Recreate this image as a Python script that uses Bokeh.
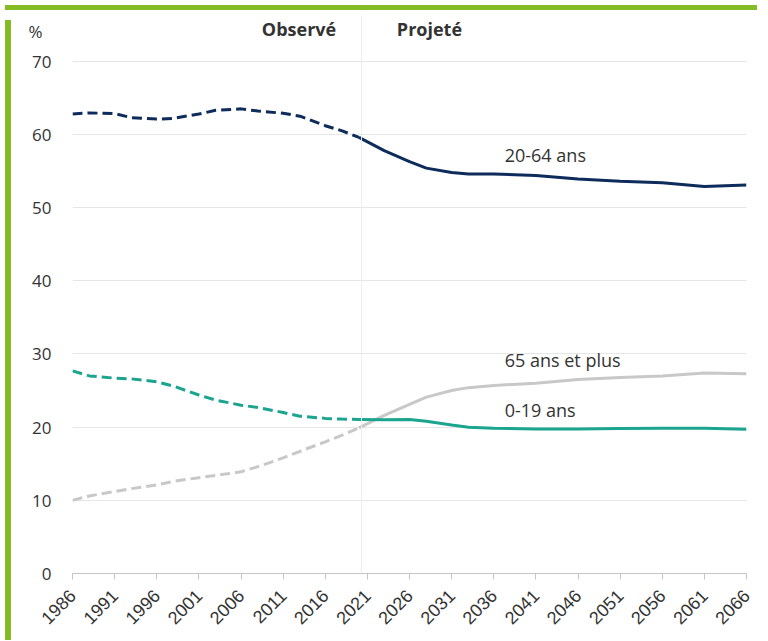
from bokeh.plotting import figure
from bokeh.models import Range1d, FixedTicker, Span, Label, Div
from bokeh.layouts import row, column
from bokeh.embed import file_html
from bokeh.resources import INLINE
import math

# ---- data ----
obs_years = [1986, 1988, 1991, 1993, 1996, 1998, 2001, 2003, 2006, 2008, 2011, 2013, 2016, 2018, 2020]
proj_years = [2020, 2023, 2026, 2028, 2031, 2033, 2036, 2041, 2046, 2051, 2056, 2061, 2066]

age_20_64_obs = [62.8, 62.95, 62.85, 62.3, 62.1, 62.2, 62.8, 63.3, 63.5, 63.2, 62.9, 62.5, 61.2, 60.5, 59.6]
age_20_64_proj = [59.6, 57.8, 56.3, 55.4, 54.8, 54.6, 54.6, 54.4, 53.9, 53.6, 53.4, 52.9, 53.1]

age_0_19_obs = [27.7, 27.0, 26.7, 26.6, 26.2, 25.6, 24.4, 23.7, 23.0, 22.7, 22.0, 21.5, 21.2, 21.1, 21.05]
age_0_19_proj = [21.05, 21.0, 21.05, 20.8, 20.3, 20.0, 19.85, 19.75, 19.75, 19.8, 19.85, 19.85, 19.7]

age_65_obs = [10.0, 10.6, 11.2, 11.6, 12.1, 12.6, 13.1, 13.4, 13.9, 14.6, 15.8, 16.7, 18.0, 18.9, 19.9]
age_65_proj = [19.9, 21.6, 23.1, 24.1, 25.0, 25.4, 25.7, 26.0, 26.5, 26.8, 27.0, 27.4, 27.3]

x_ticks = list(range(1986, 2067, 5))
y_ticks = [0, 10, 20, 30, 40, 50, 60, 70]
unit_label = "%"

series_labels = ["20-64 ans", "65 ans et plus", "0-19 ans"]
period_labels = ["Observé", "Projeté"]

NAVY = "#0d2b5b"
TEAL = "#1ba48e"
GREY = "#c8c8c8"
GREEN = "#85bc26"
TXT = "#333333"
FONT = "Open Sans"

Y_TOP = 76.26
UNIT_Y = 74.1

p = figure(width=746, height=620, output_backend="svg", toolbar_location=None,
           x_range=Range1d(1986, 2066), y_range=Range1d(0, Y_TOP),
           min_border_left=56, min_border_right=16, min_border_top=0, min_border_bottom=62)
p.outline_line_color = None
p.background_fill_color = "white"
p.border_fill_color = "white"

# axes
p.xaxis.ticker = FixedTicker(ticks=x_ticks)
p.xaxis.major_label_orientation = math.pi / 4
p.xaxis.axis_line_color = "#c4c4c4"
p.xaxis.major_tick_line_color = "#c4c4c4"
p.xaxis.major_tick_out = 6
p.xaxis.major_tick_in = 0
p.xaxis.minor_tick_line_color = None
p.xaxis.major_label_text_font = "Liberation Sans"
p.xaxis.major_label_text_font_size = "18px"
p.xaxis.major_label_text_color = TXT
p.xaxis.major_label_standoff = 13

# y axis: tick labels plus the unit "%" shown at the top of the axis
p.yaxis.ticker = FixedTicker(ticks=y_ticks + [UNIT_Y])
p.yaxis.major_label_overrides = {UNIT_Y: unit_label + "\u00a0\u00a0"}
p.yaxis.axis_line_color = None
p.yaxis.major_tick_line_color = None
p.yaxis.minor_tick_line_color = None
p.yaxis.major_label_text_font = FONT
p.yaxis.major_label_text_font_size = "17px"
p.yaxis.major_label_text_color = TXT
p.yaxis.major_label_standoff = 15

p.xgrid.grid_line_color = None
p.ygrid.ticker = FixedTicker(ticks=[10, 20, 30, 40, 50, 60, 70])
p.ygrid.grid_line_color = "#e6e6e6"
p.ygrid.grid_line_width = 1

# divider observed / projected
p.add_layout(Span(location=2020.3, dimension="height", line_color="#ececec", line_width=1))

# lines
LW = 3
p.line(obs_years, age_65_obs, line_color=GREY, line_width=LW, line_dash="10 5")
p.line(proj_years, age_65_proj, line_color=GREY, line_width=LW)
p.line(obs_years, age_0_19_obs, line_color=TEAL, line_width=LW, line_dash="10 5")
p.line(proj_years, age_0_19_proj, line_color=TEAL, line_width=LW)
p.line(obs_years, age_20_64_obs, line_color=NAVY, line_width=LW, line_dash="10 5")
p.line(proj_years, age_20_64_proj, line_color=NAVY, line_width=LW)

# series labels
for txt, yv in zip(series_labels, [57.25, 29.15, 22.3]):
    p.add_layout(Label(x=2037.3, y=yv, text=txt, text_font=FONT, text_font_size="18px",
                       text_color=TXT, text_baseline="middle", text_align="left"))

# period labels
p.add_layout(Label(x=2017.3, y=74.4, text=period_labels[0], text_font=FONT, text_font_size="18px",
                   text_font_style="bold", text_color=TXT, text_baseline="middle", text_align="right"))
p.add_layout(Label(x=2024.5, y=74.4, text=period_labels[1], text_font=FONT, text_font_size="18px",
                   text_font_style="bold", text_color=TXT, text_baseline="middle", text_align="left"))

top_band = Div(text="", width=752, height=5, styles={"background-color": GREEN})
left_band = Div(text="", width=6, height=620, styles={"background-color": GREEN})
layout = column(top_band, row(left_band, p))

open("out.html", "w").write(file_html(layout, INLINE))
